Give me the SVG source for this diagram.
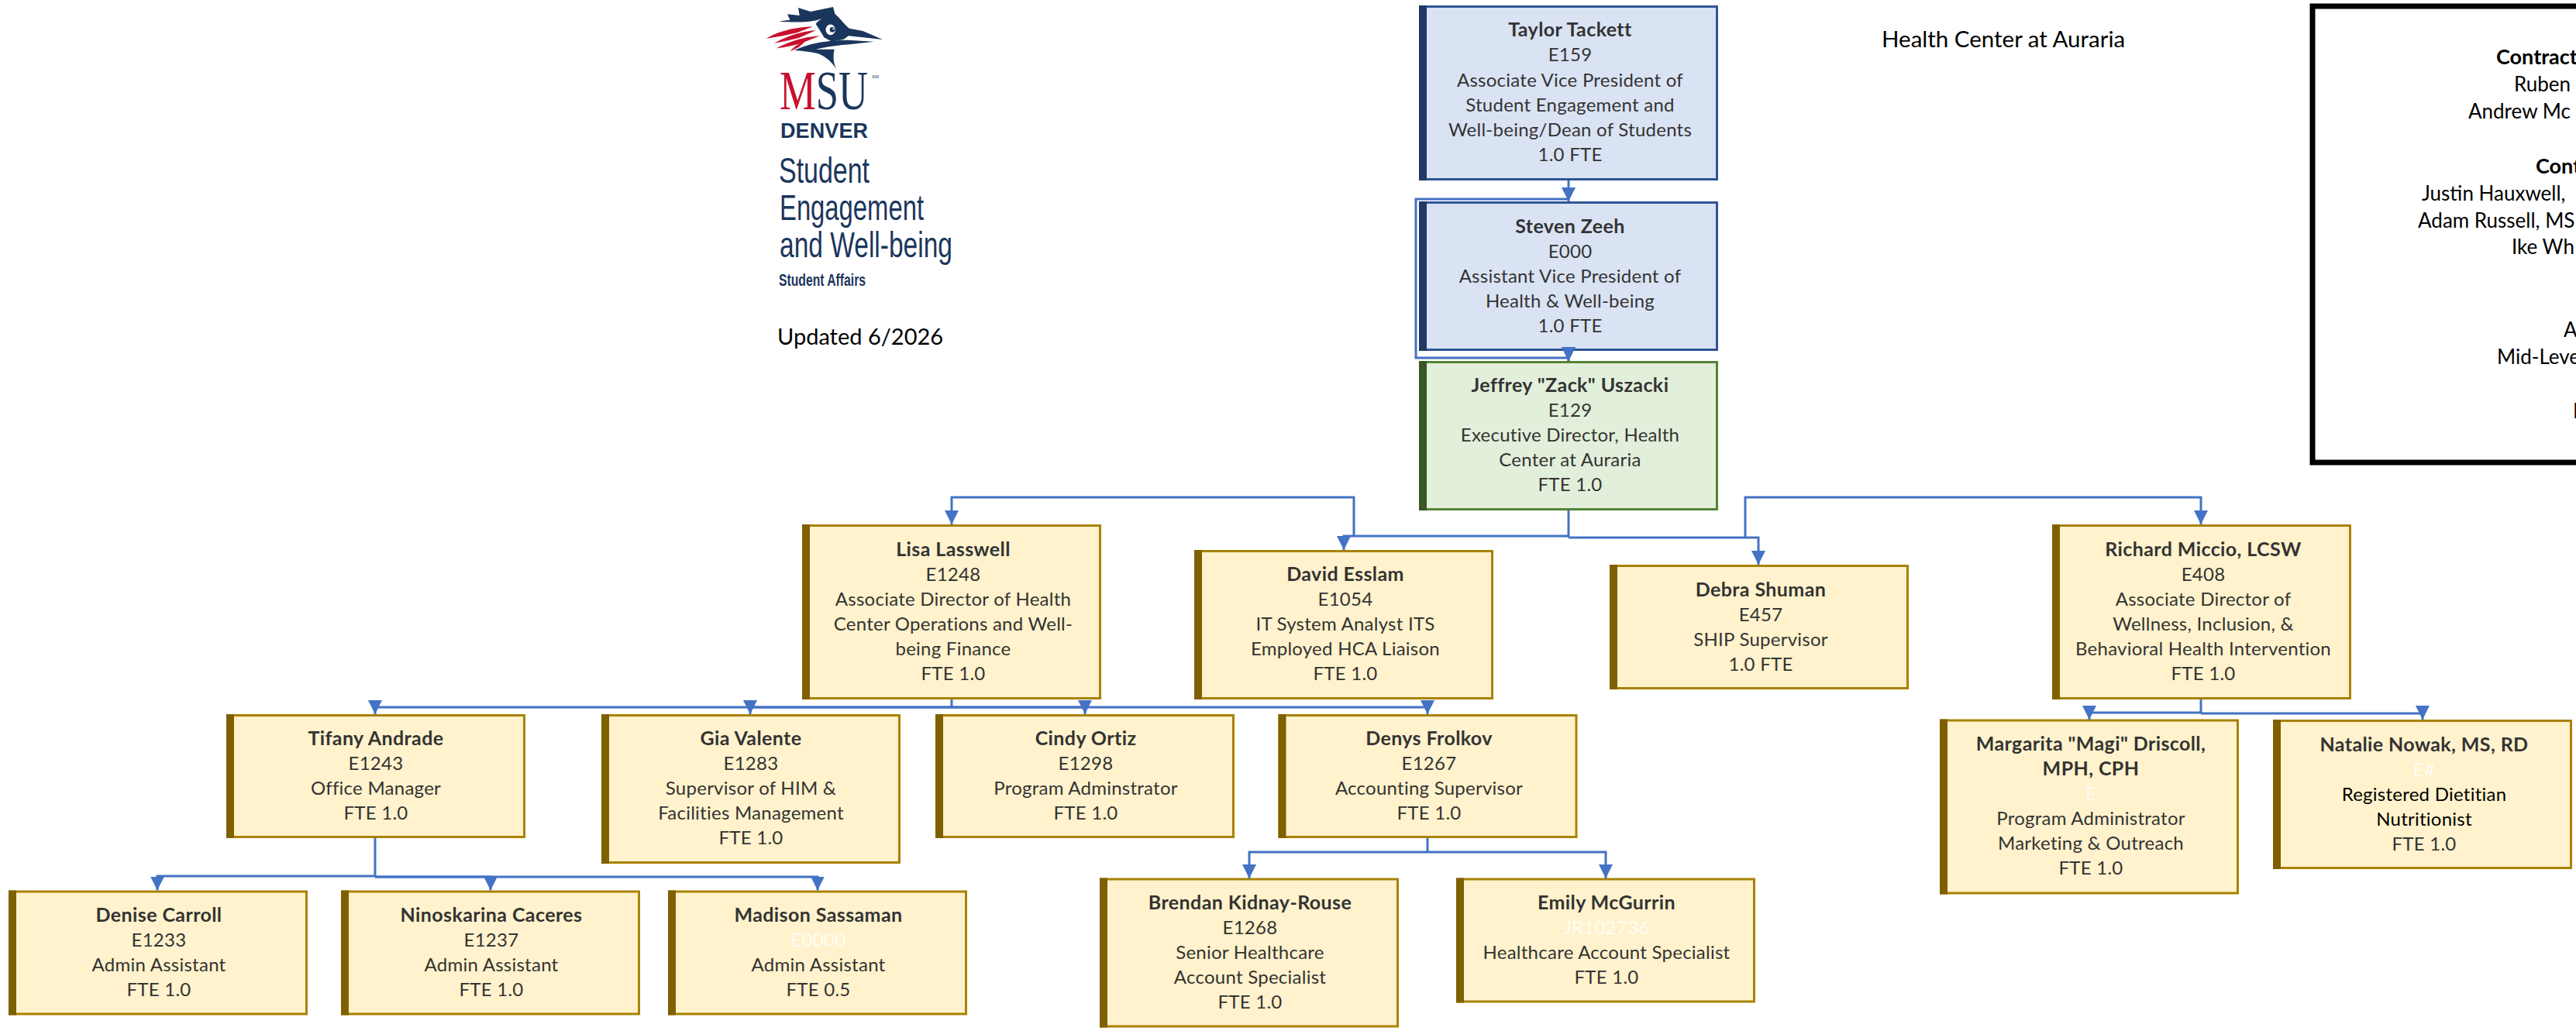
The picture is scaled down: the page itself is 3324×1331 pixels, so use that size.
<svg xmlns="http://www.w3.org/2000/svg" width="3324" height="1331" viewBox="0 0 3324 1331">
<defs>
<style>
text{font-family:"Lato","Liberation Sans",sans-serif;font-size:24px;letter-spacing:.25px;fill:#333;text-anchor:middle}
.n{font-weight:700;font-size:25px;letter-spacing:.4px}
.w{fill:#fffdf5}
.k{fill:#000}
.y{fill:#fff2cc;stroke:#a98200;stroke-width:3}
.yb{fill:#7f6000}
.b{fill:#dae3f3;stroke:#2f5597;stroke-width:3}
.bb{fill:#203864}
.g{fill:#e2efda;stroke:#548235;stroke-width:3}
.gb{fill:#385723}
.l{fill:none;stroke:#4472c4;stroke-width:3}
.free{font-size:29.5px;letter-spacing:0;fill:#000;text-anchor:start}
.box{font-size:26px;letter-spacing:0;fill:#000;text-anchor:start}
.nav{fill:#1b365d;text-anchor:start;font-family:"Liberation Sans",sans-serif;letter-spacing:0}
</style>
<marker id="a" markerUnits="userSpaceOnUse" markerWidth="18" markerHeight="18" refX="18" refY="9" orient="auto"><path d="M0,0L18,9L0,18Z" fill="#4472c4"/></marker>
</defs>
<rect width="3324" height="1331" fill="#fff"/>

<g id="logo">
<g transform="translate(980,5) scale(.3333)">
<path fill="#1b365d" d="M75,68L118,62L108,40L155,45L150,15L198,30L285,12L292,38C315,60 335,85 348,95L400,105L477,138L400,130L345,124L325,138L280,146L250,130L232,100L218,78C228,60 255,50 275,48L225,62C190,72 130,72 75,68Z"/>
<ellipse cx="275" cy="100" rx="21" ry="23" fill="#fff" stroke="#1b365d" stroke-width="5"/>
<circle cx="282" cy="100" r="10" fill="#1b365d"/>
<circle cx="286" cy="97" r="3" fill="#fff"/>
<path fill="#1b365d" d="M135,180C180,158 240,142 340,140L444,146L350,157C300,160 260,167 218,176L290,176C285,200 285,225 297,252C280,225 255,202 225,192C195,185 165,182 135,180Z"/>
<path fill="#c8102e" d="M26,135C70,105 130,92 207,88L145,112C100,122 60,130 26,135ZM56,152C100,128 160,106 218,103L152,132C120,140 90,147 56,152ZM66,172C110,148 170,128 234,124L162,152C130,162 100,168 66,172ZM118,184C135,165 150,155 178,145L152,168Z"/>
</g>
<text x="1006" y="141" textLength="114" lengthAdjust="spacingAndGlyphs" style="font-family:'Liberation Serif',serif;font-size:71px;letter-spacing:0;fill:#1b365d;text-anchor:start"><tspan style="fill:#c8102e">M</tspan>SU</text>
<text x="1125" y="101" class="nav" style="font-size:6px">SM</text>
<text x="1007" y="178" class="nav" textLength="113" lengthAdjust="spacing" style="font-size:27px;font-weight:700">DENVER</text>
<text x="1005" y="236" class="nav" textLength="117" lengthAdjust="spacingAndGlyphs" style="font-size:46px">Student</text>
<text x="1006" y="284" class="nav" textLength="186" lengthAdjust="spacingAndGlyphs" style="font-size:46px">Engagement</text>
<text x="1006" y="332" class="nav" textLength="223" lengthAdjust="spacingAndGlyphs" style="font-size:46px">and Well-being</text>
<text x="1005" y="369" class="nav" textLength="112" lengthAdjust="spacingAndGlyphs" style="font-size:22px;font-weight:700">Student Affairs</text>
</g>
<text id="updated" class="free" x="1003" y="445" style="font-size:29px">Updated 6/2026</text>
<text id="title" class="free" x="2428" y="61">Health Center at Auraria</text>

<g id="contract-box">
<rect x="2984" y="8" width="400" height="589" fill="#fff" stroke="#000" stroke-width="7"/>
<text class="box n" x="3221" y="83" style="font-size:27px;letter-spacing:0">Contract</text>
<text class="box" x="3244" y="118">Ruben</text>
<text class="box" x="3185" y="153">Andrew Mc</text>
<text class="box n" x="3272" y="224" style="font-size:27px;letter-spacing:0">Cont</text>
<text class="box" x="3125" y="259">Justin Hauxwell,</text>
<text class="box" x="3120" y="294">Adam Russell, MS</text>
<text class="box" x="3241" y="328">Ike Wh</text>
<text class="box" x="3308" y="435">A</text>
<text class="box" x="3222" y="470">Mid-Leve</text>
<text class="box" x="3320" y="540">I</text>
</g>

<g id="taylor"><rect class="b" x="1832.5" y="8.5" width="383" height="223"/><rect class="bb" x="1831" y="7" width="10" height="226"/>
<text class="n" x="2026" y="47">Taylor Tackett</text><text x="2026" y="79">E159</text><text x="2026" y="112">Associate Vice President of</text><text x="2026" y="144">Student Engagement and</text><text x="2026" y="176">Well-being/Dean of Students</text><text x="2026" y="208">1.0 FTE</text></g>
<g id="steven"><rect class="b" x="1832.5" y="261.5" width="383" height="190"/><rect class="bb" x="1831" y="260" width="10" height="193"/>
<text class="n" x="2026" y="301">Steven Zeeh</text><text x="2026" y="333">E000</text><text x="2026" y="365">Assistant Vice President of</text><text x="2026" y="397">Health &amp; Well-being</text><text x="2026" y="429">1.0 FTE</text></g>
<g id="jeffrey"><rect class="g" x="1832.5" y="467.5" width="383" height="190"/><rect class="gb" x="1831" y="466" width="10" height="193"/>
<text class="n" x="2026" y="506">Jeffrey "Zack" Uszacki</text><text x="2026" y="538">E129</text><text x="2026" y="570">Executive Director, Health</text><text x="2026" y="602">Center at Auraria</text><text x="2026" y="634">FTE 1.0</text></g>

<g id="lisa"><rect class="y" x="1036.5" y="678.5" width="383" height="223"/><rect class="yb" x="1035" y="677" width="10" height="226"/>
<text class="n" x="1230" y="718">Lisa Lasswell</text><text x="1230" y="750">E1248</text><text x="1230" y="782">Associate Director of Health</text><text x="1230" y="814">Center Operations and Well-</text><text x="1230" y="846">being Finance</text><text x="1230" y="878">FTE 1.0</text></g>
<g id="david"><rect class="y" x="1542.5" y="711.5" width="383" height="190"/><rect class="yb" x="1541" y="710" width="10" height="193"/>
<text class="n" x="1736" y="750">David Esslam</text><text x="1736" y="782">E1054</text><text x="1736" y="814">IT System Analyst ITS</text><text x="1736" y="846">Employed HCA Liaison</text><text x="1736" y="878">FTE 1.0</text></g>
<g id="debra"><rect class="y" x="2078.5" y="730.5" width="383" height="158"/><rect class="yb" x="2077" y="729" width="10" height="161"/>
<text class="n" x="2272" y="770">Debra Shuman</text><text x="2272" y="802">E457</text><text x="2272" y="834">SHIP Supervisor</text><text x="2272" y="866">1.0 FTE</text></g>
<g id="richard"><rect class="y" x="2649.5" y="678.5" width="383" height="223"/><rect class="yb" x="2648" y="677" width="10" height="226"/>
<text class="n" x="2843" y="718">Richard Miccio, LCSW</text><text x="2843" y="750">E408</text><text x="2843" y="782">Associate Director of</text><text x="2843" y="814">Wellness, Inclusion, &amp;</text><text x="2843" y="846">Behavioral Health Intervention</text><text x="2843" y="878">FTE 1.0</text></g>

<g id="tifany"><rect class="y" x="293.5" y="923.5" width="383" height="157"/><rect class="yb" x="292" y="922" width="10" height="160"/>
<text class="n" x="485" y="962">Tifany Andrade</text><text x="485" y="994">E1243</text><text x="485" y="1026">Office Manager</text><text x="485" y="1058">FTE 1.0</text></g>
<g id="gia"><rect class="y" x="777.5" y="923.5" width="383" height="190"/><rect class="yb" x="776" y="922" width="10" height="193"/>
<text class="n" x="969" y="962">Gia Valente</text><text x="969" y="994">E1283</text><text x="969" y="1026">Supervisor of HIM &amp;</text><text x="969" y="1058">Facilities Management</text><text x="969" y="1090">FTE 1.0</text></g>
<g id="cindy"><rect class="y" x="1208.5" y="923.5" width="383" height="157"/><rect class="yb" x="1207" y="922" width="10" height="160"/>
<text class="n" x="1401" y="962">Cindy Ortiz</text><text x="1401" y="994">E1298</text><text x="1401" y="1026">Program Adminstrator</text><text x="1401" y="1058">FTE 1.0</text></g>
<g id="denys"><rect class="y" x="1651" y="923.5" width="383" height="157"/><rect class="yb" x="1649.5" y="922" width="10" height="160"/>
<text class="n" x="1844" y="962">Denys Frolkov</text><text x="1844" y="994">E1267</text><text x="1844" y="1026">Accounting Supervisor</text><text x="1844" y="1058">FTE 1.0</text></g>

<g id="denise"><rect class="y" x="12.5" y="1151" width="383" height="158"/><rect class="yb" x="11" y="1149.5" width="10" height="161"/>
<text class="n" x="205" y="1190">Denise Carroll</text><text x="205" y="1222">E1233</text><text x="205" y="1254">Admin Assistant</text><text x="205" y="1286">FTE 1.0</text></g>
<g id="ninoskarina"><rect class="y" x="441.5" y="1151" width="383" height="158"/><rect class="yb" x="440" y="1149.5" width="10" height="161"/>
<text class="n" x="634" y="1190">Ninoskarina Caceres</text><text x="634" y="1222">E1237</text><text x="634" y="1254">Admin Assistant</text><text x="634" y="1286">FTE 1.0</text></g>
<g id="madison"><rect class="y" x="863.5" y="1151" width="383" height="158"/><rect class="yb" x="862" y="1149.5" width="10" height="161"/>
<text class="n" x="1056" y="1190">Madison Sassaman</text><text class="w" x="1056" y="1222">E0000</text><text x="1056" y="1254">Admin Assistant</text><text x="1056" y="1286">FTE 0.5</text></g>
<g id="brendan"><rect class="y" x="1420.5" y="1135" width="383" height="190"/><rect class="yb" x="1419" y="1133.5" width="10" height="193"/>
<text class="n" x="1613" y="1174">Brendan Kidnay-Rouse</text><text x="1613" y="1206">E1268</text><text x="1613" y="1238">Senior Healthcare</text><text x="1613" y="1270">Account Specialist</text><text x="1613" y="1302">FTE 1.0</text></g>
<g id="emily"><rect class="y" x="1880.5" y="1135" width="383" height="158"/><rect class="yb" x="1879" y="1133.5" width="10" height="161"/>
<text class="n" x="2073" y="1174">Emily McGurrin</text><text class="w" x="2073" y="1206">JR102736</text><text x="2073" y="1238">Healthcare Account Specialist</text><text x="2073" y="1270">FTE 1.0</text></g>
<g id="margarita"><rect class="y" x="2504.5" y="930" width="383" height="223"/><rect class="yb" x="2503" y="928.5" width="10" height="226"/>
<text class="n" x="2698" y="969">Margarita "Magi" Driscoll,</text><text class="n" x="2698" y="1001">MPH, CPH</text><text class="w" x="2698" y="1033">E</text><text x="2698" y="1065">Program Administrator</text><text x="2698" y="1097">Marketing &amp; Outreach</text><text x="2698" y="1129">FTE 1.0</text></g>
<g id="natalie"><rect class="y" x="2934.5" y="930.5" width="383" height="190"/><rect class="yb" x="2933" y="929" width="10" height="193"/>
<text class="n" x="3128" y="970">Natalie Nowak, MS, RD</text><text class="w" x="3128" y="1002">E#</text><text class="k" x="3128" y="1034">Registered Dietitian</text><text class="k" x="3128" y="1066">Nutritionist</text><text x="3128" y="1098">FTE 1.0</text></g>

<g id="connectors">
<path class="l" marker-end="url(#a)" d="M2024,233V260"/>
<path class="l" marker-end="url(#a)" d="M2024,453V466"/>
<path class="l" marker-end="url(#a)" d="M2024,257H1827V462H2024V466"/>
<path class="l" d="M2024,659V694"/>
<path class="l" marker-end="url(#a)" d="M2024,692H1734V710"/>
<path class="l" marker-end="url(#a)" d="M1747,692V642H1228V677"/>
<path class="l" marker-end="url(#a)" d="M2024,694H2269V729"/>
<path class="l" marker-end="url(#a)" d="M2252,694V642H2840V677"/>
<path class="l" d="M1228,903V913"/>
<path class="l" marker-end="url(#a)" d="M1228,913H484V922"/>
<path class="l" marker-end="url(#a)" d="M1228,913H968V922"/>
<path class="l" marker-end="url(#a)" d="M1228,913H1400V922"/>
<path class="l" marker-end="url(#a)" d="M1228,913H1842V922"/>
<path class="l" d="M484,1082V1132"/>
<path class="l" marker-end="url(#a)" d="M484,1131H203V1149.5"/>
<path class="l" marker-end="url(#a)" d="M484,1132H633V1149.5"/>
<path class="l" marker-end="url(#a)" d="M484,1132H1055V1149.5"/>
<path class="l" d="M1842,1082V1100"/>
<path class="l" marker-end="url(#a)" d="M1842,1100H1612V1134"/>
<path class="l" marker-end="url(#a)" d="M1842,1100H2072V1134"/>
<path class="l" d="M2840,903V921"/>
<path class="l" marker-end="url(#a)" d="M2840,920H2696V929"/>
<path class="l" marker-end="url(#a)" d="M2840,921H3126V929"/>
</g>
</svg>
